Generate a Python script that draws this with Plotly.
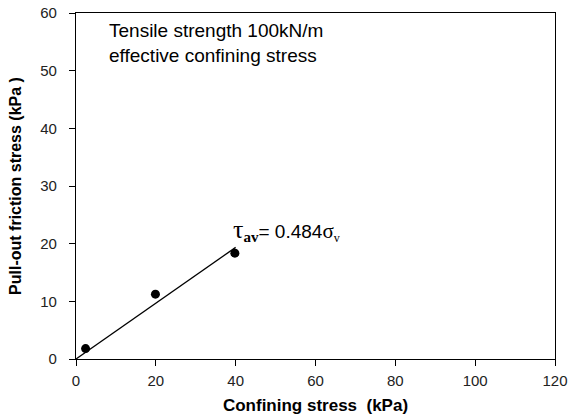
import plotly.graph_objects as go

confining = [2.4, 19.9, 39.8]
friction = [1.8, 11.25, 18.35]
fit_x = [0, 40]
slope = 0.484
fit_y = [slope * x for x in fit_x]

x_ticks = [0, 20, 40, 60, 80, 100, 120]
y_ticks = [0, 10, 20, 30, 40, 50, 60]

fig = go.Figure()
fig.add_trace(go.Scatter(x=fit_x, y=fit_y, mode="lines",
                         line=dict(color="black", width=1.3), showlegend=False))
fig.add_trace(go.Scatter(x=confining, y=friction, mode="markers",
                         marker=dict(color="black", size=9), showlegend=False))

serif = "Liberation Serif"
sans = "Arial, Liberation Sans"
fig.add_annotation(
    x=38.8, y=19.4, xref="x", yref="y", xanchor="left", yanchor="bottom",
    showarrow=False,
    text=(f"<span style='font-family:{serif};font-size:26px'>τ</span>"
          f"<sub><span style='font-family:{serif};font-size:15px'><b>av</b></span></sub>"
          "= 0.484"
          f"<span style='font-family:{serif};font-size:21px'>σ</span>"
          f"<sub><span style='font-family:{serif};font-size:12px'>v</span></sub>"),
    font=dict(family=sans, size=19, color="black"),
)
fig.add_annotation(
    x=0.065, y=0.985, xref="paper", yref="paper", xanchor="left", yanchor="top",
    showarrow=False, align="left",
    text="Tensile strength 100kN/m<br>effective confining stress",
    font=dict(family=sans, size=19, color="black"),
)

axis_common = dict(
    showline=True, linecolor="black", linewidth=1.3, mirror=True,
    ticks="outside", ticklen=6, tickcolor="black", tickwidth=1,
    showgrid=False, zeroline=False, automargin=False,
    ticklabeloverflow="allow",
    tickfont=dict(family=sans, size=15, color="#222"),
)

fig.update_layout(
    width=572, height=418,
    margin=dict(l=76, r=17, t=13, b=59),
    plot_bgcolor="white", paper_bgcolor="white",
    xaxis=dict(range=[0, 120], tickvals=x_ticks, ticklabelstandoff=2,
               title=dict(text="<b>Confining stress  (kPa)</b>", standoff=10,
                          font=dict(family=sans, size=17, color="black")),
               **axis_common),
    yaxis=dict(range=[0, 60], tickvals=y_ticks, ticklabelstandoff=9,
               title=dict(text="<b>Pull-out friction stress (kPa )</b>", standoff=14,
                          font=dict(family=sans, size=16, color="black")),
               **axis_common),
)

fig.write_html("out.html", config={"displayModeBar": False},
               post_script="document.body.style.margin='0';document.body.style.padding='0';")
